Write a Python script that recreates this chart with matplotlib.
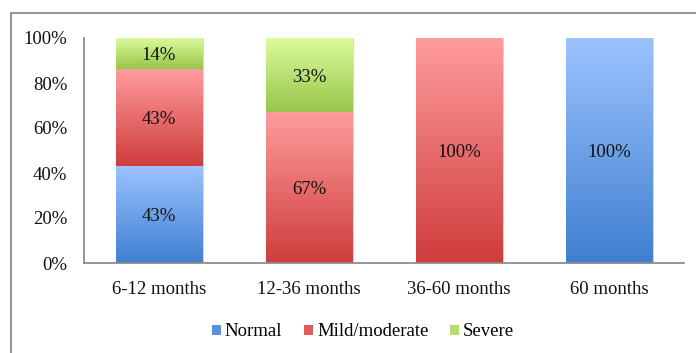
import numpy as np
import matplotlib.pyplot as plt
from matplotlib.colors import LinearSegmentedColormap
from matplotlib.patches import Patch, Rectangle
from matplotlib.ticker import FuncFormatter

plt.rcParams['font.family'] = ['Liberation Serif', 'DejaVu Serif']

categories = ['6-12 months', '12-36 months', '36-60 months', '60 months']
series = ['Normal', 'Mild/moderate', 'Severe']
normal = [43, 0, 0, 100]
mild = [43, 67, 100, 0]
severe = [14, 33, 0, 0]

# (top, bottom) colours of the vertical gradient for each series
gradients = {
    'Normal': ('#9cc3ff', '#3f7fd0'),
    'Mild/moderate': ('#ff9c9c', '#cf3c3c'),
    'Severe': ('#dcfc9e', '#98c64a'),
}
legend_colors = {'Normal': '#5b92e0', 'Mild/moderate': '#e05a5a', 'Severe': '#b4dc6e'}
fs = 13.5

fig = plt.figure(figsize=(6.96, 3.53), dpi=100)
ax = fig.add_axes([84 / 696, 1 - 263 / 353, 600 / 696, 225 / 353])

# chart frame
fig.patches.append(Rectangle((11 / 696, -0.1), 1.2, 1 - 13 / 353 + 0.1,
                             transform=fig.transFigure, fill=False,
                             edgecolor='#8a8a8a', linewidth=1.3, zorder=0))

width = 0.58
grad = np.linspace(0, 1, 256).reshape(-1, 1)
x = np.arange(len(categories))
bottom = np.zeros(len(categories))
for name, vals in zip(series, [normal, mild, severe]):
    top_c, bot_c = gradients[name]
    cmap = LinearSegmentedColormap.from_list(name, [bot_c, top_c])
    for i, v in enumerate(vals):
        if v <= 0:
            continue
        y0 = bottom[i] / 100
        y1 = (bottom[i] + v) / 100
        # faint shadow on the right edge
        ax.add_patch(Rectangle((x[i] - width / 2 + 0.012, y0), width, y1 - y0,
                               facecolor='#d8d8d8', edgecolor='none', zorder=1))
        ax.imshow(grad, cmap=cmap, origin='lower', aspect='auto',
                  extent=(x[i] - width / 2, x[i] + width / 2, y0, y1), zorder=2)
        ax.text(x[i], (y0 + y1) / 2, f'{v}%', ha='center', va='center_baseline',
                fontsize=fs, color='#111111', zorder=3)
    bottom += np.array(vals)

ax.set_xlim(-0.5, len(categories) - 0.5)
ax.set_ylim(0, 1)
ax.set_yticks(np.arange(0, 1.01, 0.2))
ax.yaxis.set_major_formatter(FuncFormatter(lambda v, p: f'{v * 100:.0f}%'))
ax.set_xticks(x)
ax.set_xticklabels(categories)
ax.tick_params(axis='both', length=0, labelsize=fs, colors='#111111')
ax.tick_params(axis='y', pad=12)
ax.tick_params(axis='x', pad=13)
for s in ['top', 'right']:
    ax.spines[s].set_visible(False)
for s in ['left', 'bottom']:
    ax.spines[s].set_color('#8c8c8c')
    ax.spines[s].set_linewidth(1.3)

handles = [Patch(facecolor=legend_colors[n], edgecolor='none') for n in series]
fig.legend(handles, series, loc='center', bbox_to_anchor=(363 / 696, 1 - 332 / 353),
           ncol=3, frameon=False, fontsize=fs, handlelength=0.5, handleheight=0.5,
           handletextpad=0.2, columnspacing=1.15)

fig.savefig('out.png', dpi=100)
